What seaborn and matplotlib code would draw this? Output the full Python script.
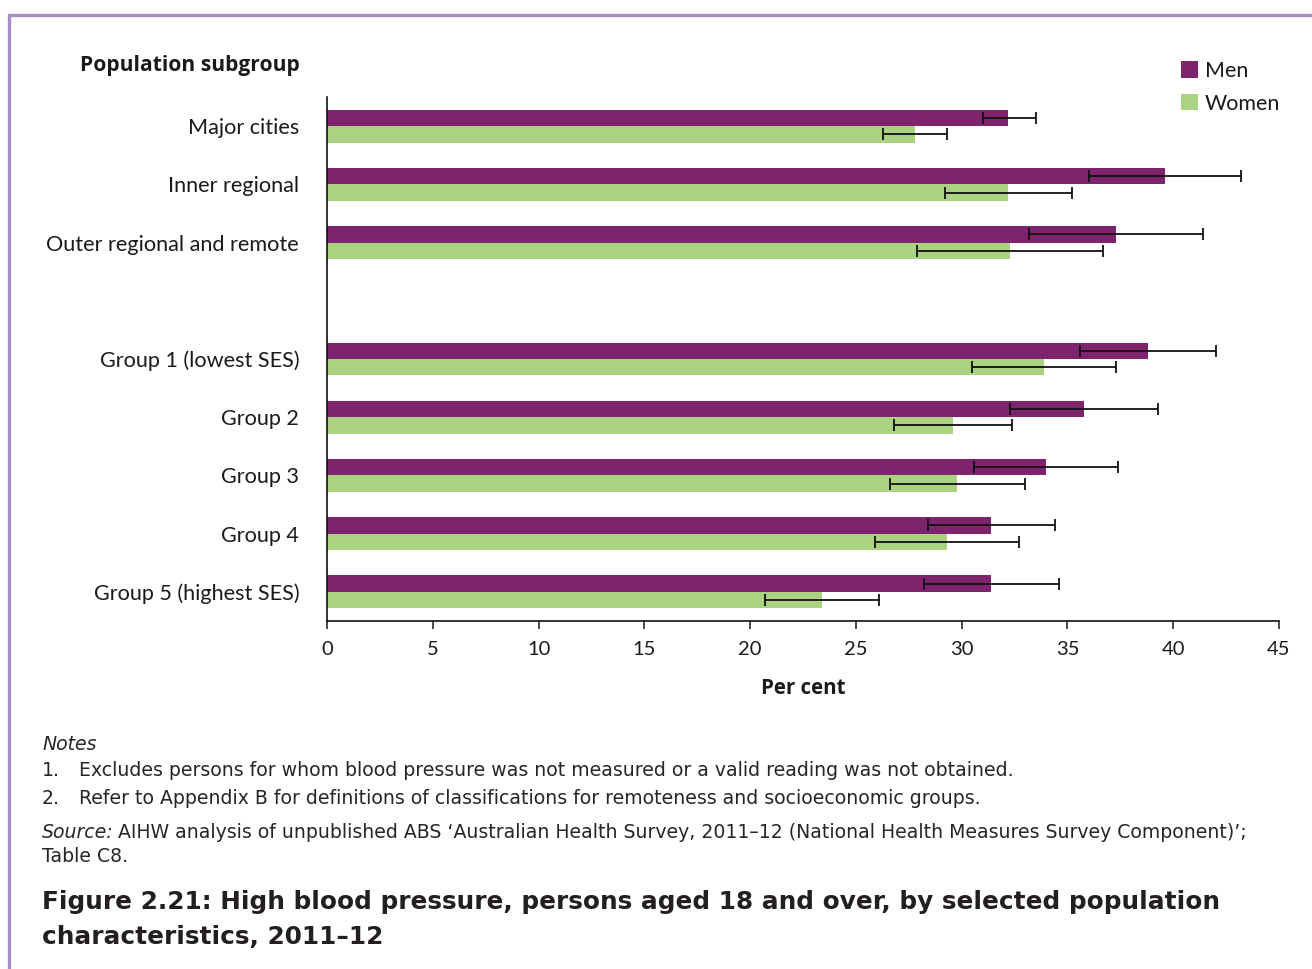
import matplotlib
matplotlib.use("Agg")
import matplotlib.pyplot as plt
from matplotlib.lines import Line2D
import numpy as np
import pandas as pd
import seaborn as sns

# ---- data -------------------------------------------------------------
subgroups = ["Major cities", "Inner regional", "Outer regional and remote",
             "Group 1 (lowest SES)", "Group 2", "Group 3", "Group 4",
             "Group 5 (highest SES)"]
spacer = " "
order = subgroups[:3] + [spacer] + subgroups[3:]

men = [32.2, 39.6, 37.3, 38.8, 35.8, 34.0, 31.4, 31.4]
men_lo = [31.0, 36.0, 33.2, 35.6, 32.3, 30.6, 28.4, 28.2]
men_hi = [33.5, 43.2, 41.4, 42.0, 39.3, 37.4, 34.4, 34.6]

women = [27.8, 32.2, 32.3, 33.9, 29.6, 29.8, 29.3, 23.4]
women_lo = [26.3, 29.2, 27.9, 30.5, 26.8, 26.6, 25.9, 20.7]
women_hi = [29.3, 35.2, 36.7, 37.3, 32.4, 33.0, 32.7, 26.1]

sexes = ["Men", "Women"]
xticks = [0, 5, 10, 15, 20, 25, 30, 35, 40, 45]

PURPLE = "#7E246F"
GREEN = "#AAD281"
TEXT = "#1A1A1A"
FRAME = "#A78CC6"

df = pd.DataFrame({
    "subgroup": subgroups * 2,
    "sex": ["Men"] * len(subgroups) + ["Women"] * len(subgroups),
    "pct": men + women,
    "lo": men_lo + women_lo,
    "hi": men_hi + women_hi,
})

# ---- figure -------------------------------------------------------------
W, H = 1312, 969
sns.set_theme(style="white")
plt.rcParams["font.family"] = ["Lato", "DejaVu Sans"]
plt.rcParams["text.color"] = TEXT
plt.rcParams["axes.labelcolor"] = TEXT
plt.rcParams["xtick.color"] = TEXT
plt.rcParams["ytick.color"] = TEXT

fig = plt.figure(figsize=(W / 100, H / 100), dpi=100)
fig.patch.set_facecolor("white")


def fx(x):
    return x / W


def fy(y):
    return 1 - y / H


ax = fig.add_axes([fx(327), fy(621), fx(1279) - fx(327), fy(97) - fy(621)])

sns.barplot(data=df, y="subgroup", x="pct", hue="sex", order=order,
            hue_order=sexes, palette=[PURPLE, GREEN], orient="h",
            width=0.566, errorbar=None, linewidth=0, saturation=1,
            legend=False, ax=ax)

# confidence intervals on every bar
for level, container in zip(sexes, ax.containers):
    sub = df[df["sex"] == level].set_index("subgroup")
    for patch in container:
        yc = patch.get_y() + patch.get_height() / 2
        name = order[int(round(yc))]
        if name not in sub.index:
            continue
        row = sub.loc[name]
        ax.errorbar(row["pct"], yc,
                    xerr=[[row["pct"] - row["lo"]], [row["hi"] - row["pct"]]],
                    fmt="none", ecolor="#111111", elinewidth=1.3,
                    capsize=4.3, capthick=1.3, zorder=5)

BOLD = ["Open Sans", "DejaVu Sans"]

ax.set_xlim(0, 45)
ax.set_ylim(len(order) - 0.5, -0.5)
ax.set_xticks(xticks)
ax.set_xticklabels([str(t) for t in xticks], fontsize=14.5)
ax.tick_params(axis="x", length=6, width=1.1, pad=8.5, direction="out",
               bottom=True)
ax.tick_params(axis="y", length=0, pad=20, labelsize=15.6)
ax.set_ylabel("")
ax.set_xlabel("Per cent", fontsize=14.8, fontweight="bold", family=BOLD,
              labelpad=14)

for side in ("top", "right"):
    ax.spines[side].set_visible(False)
for side in ("left", "bottom"):
    ax.spines[side].set_color("#111111")
    ax.spines[side].set_linewidth(1.2)

fig.text(fx(80), fy(65), "Population subgroup", fontsize=15.1,
         fontweight="bold", family=BOLD, ha="left", va="center")

# legend
handles = [plt.Rectangle((0, 0), 1, 1, facecolor=c, edgecolor="none")
           for c in (PURPLE, GREEN)]
fig.legend(handles, sexes, loc="upper left",
           bbox_to_anchor=(fx(1172), fy(52)), frameon=False,
           fontsize=15.5, handlelength=0.82, handleheight=0.82,
           handletextpad=0.32, labelspacing=0.6, borderaxespad=0)

# notes and source
note_font = ["DejaVu Sans"]
NOTE = "#262626"
NS = 13.6
fig.text(fx(42), fy(744), "Notes", fontsize=NS, style="italic",
         family=note_font, color=NOTE, va="center")
fig.text(fx(42), fy(771), "1.", fontsize=NS, family=note_font, color=NOTE,
         va="center")
fig.text(fx(79), fy(771),
         "Excludes persons for whom blood pressure was not measured or a "
         "valid reading was not obtained.",
         fontsize=NS, family=note_font, color=NOTE, va="center")
fig.text(fx(42), fy(799), "2.", fontsize=NS, family=note_font, color=NOTE,
         va="center")
fig.text(fx(79), fy(799),
         "Refer to Appendix B for definitions of classifications for "
         "remoteness and socioeconomic groups.",
         fontsize=NS, family=note_font, color=NOTE, va="center")
src = fig.text(fx(42), fy(832), "Source:", fontsize=NS, style="italic",
               family=note_font, color=NOTE, va="center")
fig.canvas.draw()
bb = src.get_window_extent()
fig.text(bb.x1 / W + 4 / W, fy(832),
         "AIHW analysis of unpublished ABS \u2018Australian Health Survey, "
         "2011\u201312 (National Health Measures Survey Component)\u2019;",
         fontsize=NS, family=note_font, color=NOTE, va="center")
fig.text(fx(42), fy(857), "Table C8.", fontsize=NS, family=note_font,
         color=NOTE, va="center")

TS = 17.8
fig.text(fx(42), fy(902),
         "Figure 2.21: High blood pressure, persons aged 18 and over, by "
         "selected population",
         fontsize=TS, fontweight="bold", family=note_font, color="#231F20",
         va="center")
fig.text(fx(42), fy(937), "characteristics, 2011\u201312", fontsize=TS,
         fontweight="bold", family=note_font, color="#231F20", va="center")

# frame lines along the top and left edge
fig.add_artist(Line2D([fx(9), 1.0], [fy(15), fy(15)], color=FRAME,
                      linewidth=2.4, transform=fig.transFigure))
fig.add_artist(Line2D([fx(9), fx(9)], [fy(15), 0.0], color=FRAME,
                      linewidth=2.4, transform=fig.transFigure))

fig.savefig("out.png", dpi=100, facecolor="white")
